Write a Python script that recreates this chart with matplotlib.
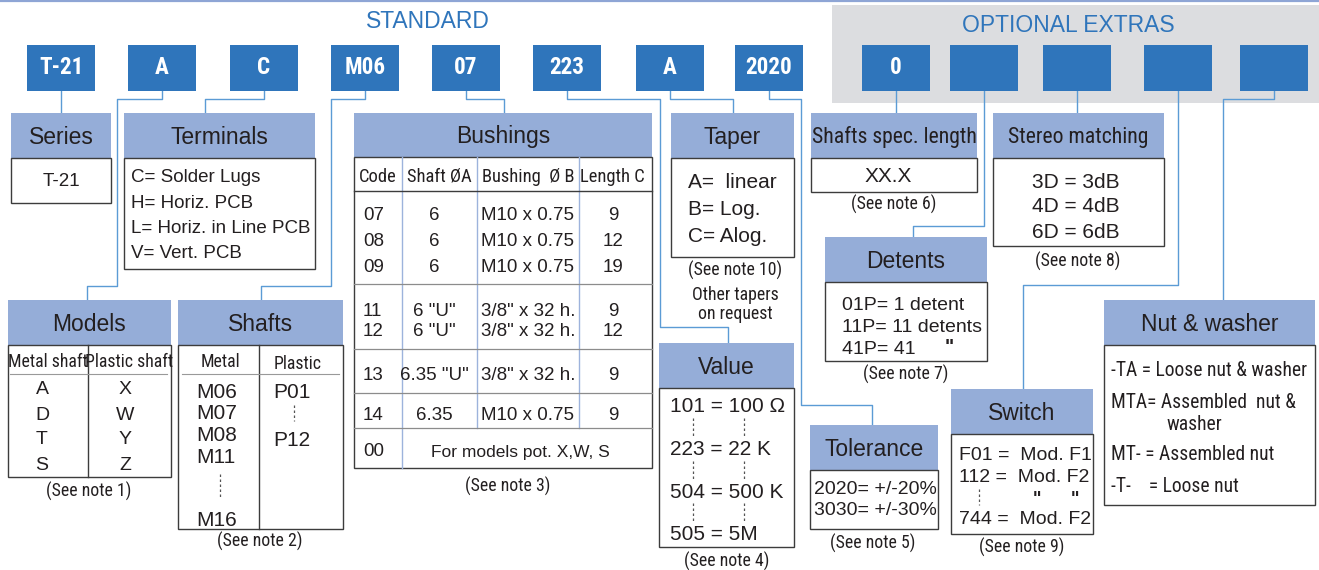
import matplotlib
matplotlib.use('Agg')
import matplotlib.pyplot as plt
from matplotlib.patches import Rectangle
from matplotlib import font_manager as fm

# ---- chart content ----
code_labels = ['T-21', 'A', 'C', 'M06', '07', '223', 'A', '2020', '0', '', '', '', '']
group_titles = ['STANDARD', 'OPTIONAL EXTRAS']

series_items = ['T-21']
terminal_items = ['C= Solder Lugs', 'H= Horiz. PCB', 'L= Horiz. in Line PCB', 'V= Vert. PCB']
model_cols = ['Metal shaft', 'Plastic shaft']
model_metal = ['A', 'D', 'T', 'S']
model_plastic = ['X', 'W', 'Y', 'Z']
shaft_cols = ['Metal', 'Plastic']
shaft_metal = ['M06', 'M07', 'M08', 'M11', 'M16']
shaft_plastic = ['P01', 'P12']
bushing_cols = ['Code', 'Shaft ØA', 'Bushing  Ø B', 'Length C']
bushing_code = ['07', '08', '09', '11', '12', '13', '14']
bushing_shaft = ['6', '6', '6', '6 "U"', '6 "U"', '6.35 "U"', '6.35']
bushing_thread = ['M10 x 0.75', 'M10 x 0.75', 'M10 x 0.75', '3/8" x 32 h.',
                  '3/8" x 32 h.', '3/8" x 32 h.', 'M10 x 0.75']
bushing_length = ['9', '12', '19', '9', '12', '9', '9']
bushing_special = ['00', 'For models pot. X,W, S']
taper_items = ['A=  linear', 'B= Log.', 'C= Alog.']
taper_extra = ['Other tapers', 'on request']
value_items = ['101 = 100 Ω', '223 = 22 K', '504 = 500 K', '505 = 5M']
tolerance_items = ['2020= +/-20%', '3030= +/-30%']
length_items = ['XX.X']
detent_items = ['01P= 1 detent', '11P= 11 detents', '41P= 41']
stereo_items = ['3D = 3dB', '4D = 4dB', '6D = 6dB']
switch_items = ['F01 =  Mod. F1', '112 =  Mod. F2', '744 =  Mod. F2']
nut_items = ['-TA = Loose nut & washer', 'MTA= Assembled  nut &', 'washer',
             'MT- = Assembled nut', '-T-    = Loose nut']
panel_titles = ['Series', 'Terminals', 'Models', 'Shafts', 'Bushings', 'Taper', 'Value',
                'Tolerance', 'Shafts spec. length', 'Detents', 'Stereo matching',
                'Switch', 'Nut & washer']
notes = ['(See note 1)', '(See note 2)', '(See note 3)', '(See note 4)', '(See note 5)',
         '(See note 6)', '(See note 7)', '(See note 8)', '(See note 9)', '(See note 10)']

# ---- styles ----
BLUE = '#2f75bb'
HEAD = '#95add8'
WIRE = '#5b9bd5'
EDGE = '#3c3c3c'
INK = '#231f20'
REG = ['Liberation Sans', 'DejaVu Sans']

# pick a condensed face for the narrow labels (size factor relative to Arial Narrow)
NAR, NSTRETCH, NSCALE = REG, 'normal', 0.82
for fam, stretch, scale in [('Liberation Sans Narrow', 'normal', 1.0),
                            ('Roboto Condensed', 'normal', 0.95),
                            ('Open Sans Condensed', 'normal', 0.95),
                            ('DejaVu Sans', 'condensed', 0.84)]:
    try:
        path = fm.findfont(fm.FontProperties(family=fam, stretch=stretch), fallback_to_default=False)
    except ValueError:
        continue
    if 'ondensed' in path or 'arrow' in path:
        NAR, NSTRETCH, NSCALE = [fam, 'DejaVu Sans'], stretch, scale
        break

fig = plt.figure(figsize=(13.19, 5.70), dpi=100)
ax = fig.add_axes([0, 0, 1, 1])
ax.set_xlim(0, 1319)
ax.set_ylim(570, 0)
ax.axis('off')

DY = 2  # text sits a touch lower than the box centre


def txt(x, y, s, size=13.5, ha='left', color=INK, **kw):
    ax.text(x, y + DY, s, fontsize=size, family=REG, ha=ha, va='center', color=color, **kw)


def ntxt(x, y, s, size=13.5, ha='left', color=INK, **kw):
    ax.text(x, y + DY, s, fontsize=size * NSCALE, family=NAR, fontstretch=NSTRETCH,
            ha=ha, va='center', color=color, **kw)


def rect(x0, y0, x1, y1, fc, ec='none', lw=0, z=1):
    ax.add_patch(Rectangle((x0, y0), x1 - x0, y1 - y0, facecolor=fc,
                           edgecolor=ec, linewidth=lw, zorder=z))


def wire(pts):
    xs, ys = zip(*pts)
    ax.plot(xs, ys, color=WIRE, lw=1.0, zorder=0.5)


def dots(x, y0, y1):
    ax.plot([x, x], [y0, y1], color='#555555', lw=0.9, ls=(0, (2, 2)))


# top rule and optional-extras backdrop
ax.plot([0, 1319], [1, 1], color='#8ea5d5', lw=1.6)
rect(832, 5, 1319, 103, '#dcdde0', z=0)
txt(428, 20, group_titles[0], size=16.5, ha='center', color=BLUE)
txt(1068, 23, group_titles[1], size=16.5, ha='center', color=BLUE)

# code boxes
code_x = [27, 128, 230, 331, 432, 533, 636, 735, 862, 950, 1043, 1144, 1240]
for x, lab in zip(code_x, code_labels):
    rect(x, 45, x + 68, 91, BLUE, z=2)
    if lab:
        ntxt(x + 34, 66, lab, size=17.5, ha='center', color='white', weight='bold', zorder=3)

# connectors
wires = [
    [(61, 91), (61, 113)],
    [(162, 91), (162, 99), (117, 99), (117, 286), (87, 286), (87, 300)],
    [(264, 91), (264, 99), (205, 99), (205, 113)],
    [(365, 91), (365, 99), (331, 99), (331, 286), (261, 286), (261, 300)],
    [(466, 91), (466, 99), (504, 99), (504, 113)],
    [(567, 91), (567, 99), (660, 99), (660, 327), (728, 327), (728, 343)],
    [(670, 91), (670, 99), (733, 99), (733, 113)],
    [(769, 91), (769, 99), (801, 99), (801, 405), (872, 405), (872, 425)],
    [(896, 91), (896, 113)],
    [(984, 91), (984, 226), (913, 226), (913, 237)],
    [(1077, 91), (1077, 113)],
    [(1178, 91), (1178, 285), (1023, 285), (1023, 389)],
    [(1274, 91), (1274, 99), (1223, 99), (1223, 300)],
]
for w in wires:
    wire(w)

# panels: x0, x1, header top, body top, body bottom
panels = [
    (11, 111, 113, 158, 203), (124, 315, 113, 158, 269), (8, 171, 300, 345, 477),
    (178, 343, 300, 345, 529), (354, 652, 113, 157, 468), (671, 794, 113, 158, 257),
    (659, 794, 343, 388, 547), (810, 938, 425, 470, 529), (811, 977, 113, 158, 192),
    (825, 987, 237, 282, 361), (993, 1164, 113, 158, 246), (951, 1093, 389, 434, 534),
    (1104, 1315, 300, 345, 505),
]
narrow_titles = {'Shafts spec. length', 'Stereo matching'}
for (x0, x1, yt, ym, yb), title in zip(panels, panel_titles):
    rect(x0, yt, x1, ym, HEAD, z=1)
    rect(x0, ym, x1, yb, 'white', ec=EDGE, lw=1.0, z=1)
    if title in narrow_titles:
        ntxt((x0 + x1) / 2, (yt + ym) / 2, title, size=16.5, ha='center')
    else:
        txt((x0 + x1) / 2, (yt + ym) / 2, title, size=16.5, ha='center')

# Series
txt(61, 180, series_items[0], ha='center')

# Terminals
for i, s in enumerate(terminal_items):
    txt(131, 176 + i * 25.3, s)

# Models
ax.plot([88, 88], [345, 477], color=EDGE, lw=1.0)
ax.plot([10, 167], [374, 374], color='#999999', lw=0.8)
ntxt(48, 360, model_cols[0], size=13.5, ha='center')
ntxt(129, 360, model_cols[1], size=13.5, ha='center')
for i, (a, b) in enumerate(zip(model_metal, model_plastic)):
    txt(42, 388 + i * 25, a, size=14, ha='center')
    txt(125, 388 + i * 25, b, size=14, ha='center')
ntxt(89, 489, notes[0], ha='center')

# Shafts
ax.plot([259, 259], [345, 529], color=EDGE, lw=1.0)
ax.plot([182, 339], [374, 374], color='#999999', lw=0.8)
ntxt(220, 360, shaft_cols[0], size=13.5, ha='center')
ntxt(298, 362, shaft_cols[1], size=13.5, ha='center')
for i, s in enumerate(shaft_metal[:4]):
    txt(196, 390 + i * 21.7, s, size=15)
dots(220, 474, 497)
txt(196, 518, shaft_metal[4], size=15)
txt(273, 390, shaft_plastic[0], size=15)
dots(294, 405, 421)
txt(273, 438, shaft_plastic[1], size=15)
ntxt(260, 539, notes[1], ha='center')

# Bushings table
col_x = [354, 402, 477, 579, 652]
ax.plot([col_x[1], col_x[1]], [157, 468], color='#9db3dc', lw=1.0)
for x in col_x[2:4]:
    ax.plot([x, x], [157, 428], color='#9db3dc', lw=1.0)
ax.plot([354, 652], [191, 191], color=EDGE, lw=1.0)
for y in [284, 349, 393, 428]:
    ax.plot([354, 652], [y, y], color='#8c8c8c', lw=0.9)
for cx, s in zip([378, 439, 528, 612], bushing_cols):
    ntxt(cx, 175, s, size=14, ha='center')
row_y = [213, 239, 266, 309, 330, 373, 413]
for y, c, sh, th, ln in zip(row_y, bushing_code, bushing_shaft, bushing_thread, bushing_length):
    txt(363, y, c)
    txt(434, y, sh, ha='center')
    txt(481, y, th)
    txt(613, y, ln, ha='center')
txt(363, 450, bushing_special[0])
txt(520, 450, bushing_special[1], size=12.5, ha='center')
ntxt(508, 484, notes[2], ha='center')

# Taper
for i, s in enumerate(taper_items):
    txt(688, 180 + i * 27.5, s, size=15)
ntxt(735, 268, notes[9], ha='center')
ntxt(735, 293, taper_extra[0], size=13.5, ha='center')
ntxt(735, 312, taper_extra[1], size=13.5, ha='center')

# Value
for i, s in enumerate(value_items):
    txt(670, 405 + i * 42.5, s, size=15)
for x in [693, 744]:
    for i in range(3):
        dots(x, 418 + i * 42.5, 436 + i * 42.5)
ntxt(727, 559, notes[3], ha='center')

# Tolerance
for i, s in enumerate(tolerance_items):
    txt(814, 487 + i * 21.5, s, size=14)
ntxt(873, 541, notes[4], ha='center')

# Shafts spec. length
txt(888, 174, length_items[0], size=15, ha='center')
ntxt(894, 202, notes[5], ha='center')

# Detents
for i, s in enumerate(detent_items):
    txt(842, 304 + i * 21.5, s, size=14)
txt(949, 346, '"', size=14, weight='bold', ha='center')
ntxt(906, 372, notes[6], ha='center')

# Stereo matching
for i, s in enumerate(stereo_items):
    txt(1076, 180 + i * 25, s, size=15, ha='center')
ntxt(1078, 259, notes[7], ha='center')

# Switch
txt(959, 454, switch_items[0], size=14)
txt(959, 476, switch_items[1], size=14)
dots(979, 489, 505)
txt(1037, 497, '"', size=13, weight='bold', ha='center')
txt(1075, 497, '"', size=13, weight='bold', ha='center')
txt(959, 517, switch_items[2], size=14)
ntxt(1022, 545, notes[8], ha='center')

# Nut & washer
nut_y = [368, 400, 422, 453, 485]
for y, s in zip(nut_y, nut_items):
    x = 1166 if s == 'washer' else 1111
    ntxt(x, y, s, size=14.8)

fig.savefig('out.png', dpi=100)
